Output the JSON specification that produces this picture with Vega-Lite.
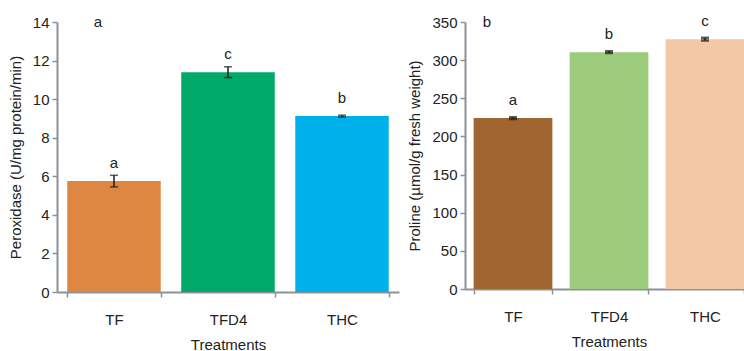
{
  "$schema": "https://vega.github.io/schema/vega-lite/v6.json",
  "padding": {"left": 8, "top": 14, "right": 0, "bottom": 0},
  "spacing": 8,
  "config": {
    "font": "Liberation Sans",
    "view": {"stroke": null},
    "axis": {
      "domainColor": "#8c9199",
      "domainWidth": 2,
      "tickColor": "#8c9199",
      "tickWidth": 1.5,
      "tickSize": 5,
      "labelColor": "#222222",
      "labelFont": "Liberation Sans",
      "labelFontSize": 15,
      "labelOverlap": false,
      "titleColor": "#222222",
      "titleFont": "Liberation Sans",
      "titleFontSize": 15,
      "titleFontWeight": "normal",
      "grid": false
    },
    "axisX": {"labelAngle": 0, "tickBand": "extent", "labelPadding": 15, "titlePadding": 10},
    "axisY": {"titlePadding": 9, "labelPadding": 3},
    "scale": {"bandPaddingInner": 0.18, "bandPaddingOuter": 0.09}
  },
  "datasets": {
    "perox": [
      {"treatment": "TF", "mean": 5.75, "se": 0.3, "letter": "a"},
      {"treatment": "TFD4", "mean": 11.4, "se": 0.28, "letter": "c"},
      {"treatment": "THC", "mean": 9.12, "se": 0.05, "letter": "b"}
    ],
    "proline": [
      {"treatment": "TF", "mean": 224, "se": 1.2, "letter": "a"},
      {"treatment": "TFD4", "mean": 310.5, "se": 1.2, "letter": "b"},
      {"treatment": "THC", "mean": 327.5, "se": 1.8, "letter": "c"}
    ]
  },
  "hconcat": [
    {
      "width": 342,
      "height": 270,
      "data": {"name": "perox"},
      "encoding": {
        "x": {"field": "treatment", "type": "nominal", "sort": null, "title": "Treatments"},
        "y": {"field": "mean", "type": "quantitative", "title": "Peroxidase (U/mg protein/min)", "scale": {"domain": [0, 14]}, "axis": {"values": [0, 2, 4, 6, 8, 10, 12, 14]}}
      },
      "layer": [
        {
          "mark": {"type": "bar"},
          "encoding": {
            "color": {"field": "treatment", "type": "nominal", "legend": null, "scale": {"domain": ["TF", "TFD4", "THC"], "range": ["#de8742", "#00a968", "#00b0eb"]}}
          }
        },
        {
          "mark": {"type": "errorbar", "ticks": {"size": 8, "thickness": 1.5, "color": "#1a1a1a"}, "thickness": 1.5, "color": "#1a1a1a"},
          "encoding": {
            "yError": {"field": "se"}
          }
        },
        {
          "mark": {"type": "text", "baseline": "middle", "dy": -18, "fontSize": 15, "fontWeight": "normal", "color": "#222222"},
          "encoding": {
            "text": {"field": "letter"}
          }
        },
        {
          "transform": [{"filter": "datum.treatment === 'TF'"}],
          "mark": {"type": "text", "baseline": "middle", "dx": -16, "fontSize": 15, "fontWeight": "normal", "color": "#222222"},
          "encoding": {
            "y": {"datum": 14},
            "text": {"value": "a"}
          }
        }
      ]
    },
    {
      "width": 288,
      "height": 267,
      "data": {"name": "proline"},
      "encoding": {
        "x": {"field": "treatment", "type": "nominal", "sort": null, "title": "Treatments"},
        "y": {"field": "mean", "type": "quantitative", "title": "Proline (µmol/g fresh weight)", "scale": {"domain": [0, 350]}, "axis": {"values": [0, 50, 100, 150, 200, 250, 300, 350]}}
      },
      "layer": [
        {
          "mark": {"type": "bar"},
          "encoding": {
            "color": {"field": "treatment", "type": "nominal", "legend": null, "scale": {"domain": ["TF", "TFD4", "THC"], "range": ["#a06530", "#9bcb7b", "#f2c8a6"]}}
          }
        },
        {
          "mark": {"type": "errorbar", "ticks": {"size": 8, "thickness": 2.5, "color": "#1a1a1a"}, "thickness": 1.5, "color": "#1a1a1a"},
          "encoding": {
            "yError": {"field": "se"}
          }
        },
        {
          "mark": {"type": "text", "baseline": "middle", "dy": -18, "fontSize": 15, "fontWeight": "normal", "color": "#222222"},
          "encoding": {
            "text": {"field": "letter"}
          }
        },
        {
          "transform": [{"filter": "datum.treatment === 'TF'"}],
          "mark": {"type": "text", "baseline": "middle", "dx": -26, "fontSize": 15, "fontWeight": "normal", "color": "#222222"},
          "encoding": {
            "y": {"datum": 350},
            "text": {"value": "b"}
          }
        }
      ]
    }
  ],
  "resolve": {"scale": {"color": "independent"}}
}
